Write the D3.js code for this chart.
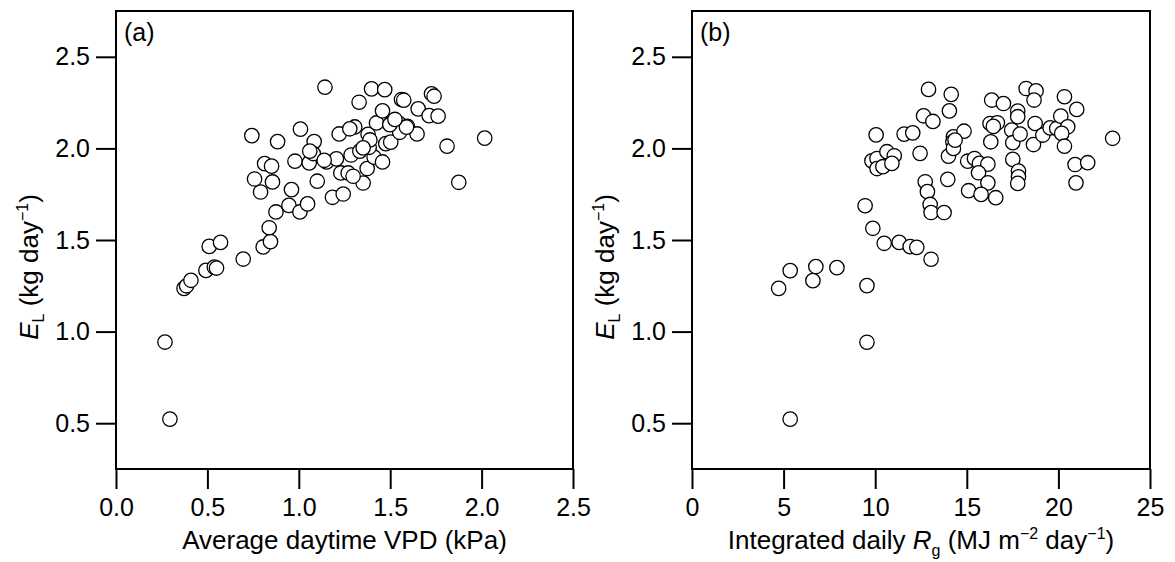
<!DOCTYPE html>
<html>
<head>
<meta charset="utf-8">
<script src="https://cdn.jsdelivr.net/npm/d3@7"></script>
<style>
  html, body { margin: 0; padding: 0; background: #fff; }
  svg { display: block; font-family: Arial, "Liberation Sans", sans-serif; }
</style>
</head>
<body>
<svg id="chart" width="1175" height="562"></svg>
<script>
// panel (a): average daytime VPD (kPa) vs E_L (kg/day)
const vpd = [0.295, 0.268, 0.372, 0.386, 0.410, 0.492, 0.538, 0.550, 0.510, 0.572,
  0.696, 0.805, 0.845, 0.838, 0.875, 0.946, 1.006, 1.048, 0.960, 0.791,
  0.758, 0.856, 0.813, 0.851, 0.743, 0.884, 1.009, 1.084, 0.979, 1.057,
  1.079, 1.101, 1.143, 1.152, 1.206, 1.184, 1.243, 1.230, 1.270, 1.286,
  1.221, 1.306, 1.279, 1.334, 1.352, 1.374, 1.412, 1.458, 1.385, 1.379,
  1.425, 1.458, 1.330, 1.398, 1.470, 1.476, 1.503, 1.507, 1.549, 1.552,
  1.594, 1.562, 1.574, 1.653, 1.647, 1.713, 1.762, 1.726, 1.740, 1.811,
  2.017, 1.875, 1.060, 1.139, 1.389, 1.352, 1.589, 1.297, 1.498, 1.526];
const elA = [0.522, 0.943, 1.236, 1.250, 1.280, 1.334, 1.352, 1.347, 1.465, 1.487,
  1.396, 1.462, 1.491, 1.567, 1.653, 1.689, 1.653, 1.697, 1.775, 1.762,
  1.833, 1.817, 1.917, 1.903, 2.070, 2.037, 2.105, 2.037, 1.930, 1.921,
  1.972, 1.821, 2.334, 1.926, 1.943, 1.733, 1.751, 1.866, 1.866, 1.964,
  2.079, 2.117, 2.107, 1.985, 1.811, 1.890, 1.952, 1.926, 2.006, 2.077,
  2.139, 2.205, 2.252, 2.325, 2.321, 2.026, 2.034, 2.139, 2.136, 2.088,
  2.121, 2.267, 2.263, 2.216, 2.079, 2.179, 2.176, 2.298, 2.285, 2.012,
  2.056, 1.815, 1.985, 1.935, 2.046, 2.003, 2.116, 1.848, 2.130, 2.158];

// panel (b): integrated daily Rg (MJ m-2 day-1) vs E_L (kg/day)
const rg = [5.36, 9.55, 4.73, 5.36, 6.60, 6.76, 7.91, 9.55, 9.45, 9.87,
  10.49, 11.31, 11.91, 12.27, 13.05, 12.73, 12.85, 13.00, 13.05, 13.76,
  13.96, 12.45, 12.91, 14.15, 14.05, 12.64, 13.15, 10.05, 11.58, 12.05,
  9.82, 10.10, 10.64, 11.04, 10.10, 10.42, 10.91, 14.27, 14.24, 14.85,
  14.00, 14.27, 15.05, 15.42, 15.69, 16.15, 15.64, 16.15, 15.10, 15.78,
  16.58, 16.31, 16.27, 16.67, 16.36, 17.00, 17.51, 17.82, 17.82, 17.78,
  17.45, 17.51, 17.91, 17.78, 17.78, 18.24, 18.78, 18.67, 18.73, 18.64,
  19.15, 19.55, 19.91, 20.13, 20.51, 20.18, 20.33, 20.33, 21.00, 20.91,
  21.60, 20.96, 22.96, 14.36, 16.45];
const elB = [0.522, 0.942, 1.236, 1.333, 1.278, 1.355, 1.349, 1.251, 1.687, 1.564,
  1.482, 1.487, 1.464, 1.460, 1.395, 1.818, 1.764, 1.694, 1.650, 1.650,
  1.831, 1.973, 2.322, 2.295, 2.205, 2.178, 2.147, 2.074, 2.078, 2.085,
  1.932, 1.945, 1.982, 1.960, 1.890, 1.900, 1.918, 2.063, 2.036, 2.094,
  1.958, 2.000, 1.930, 1.945, 1.918, 1.914, 1.867, 1.812, 1.769, 1.749,
  1.731, 2.036, 2.136, 2.140, 2.264, 2.245, 1.940, 1.876, 1.845, 1.809,
  2.100, 2.031, 2.078, 2.204, 2.173, 2.327, 2.314, 2.264, 2.136, 2.021,
  2.073, 2.112, 2.109, 2.176, 2.118, 2.082, 2.012, 2.282, 2.213, 1.912,
  1.922, 1.812, 2.055, 2.045, 2.120];

const yTicks = [0.5, 1.0, 1.5, 2.0, 2.5];
const xTicksA = [0.0, 0.5, 1.0, 1.5, 2.0, 2.5];
const xTicksB = [0, 5, 10, 15, 20, 25];

const svg = d3.select("#chart");
const plotTop = 11, plotBottom = 469;
const fs = 25, titleFs = 26, small = 16;

function drawPanel(opt) {
  const x = d3.scaleLinear().domain(opt.xDomain).range([opt.left, opt.right]);
  const y = d3.scaleLinear().domain([0.25, 2.75]).range([plotBottom, plotTop]);
  const g = svg.append("g");

  const yAxis = g.append("g")
    .attr("transform", `translate(${opt.left},0)`)
    .call(d3.axisLeft(y).tickValues(yTicks).tickFormat(d3.format(".1f")).tickSize(20).tickPadding(6));
  const xAxis = g.append("g")
    .attr("transform", `translate(0,${plotBottom})`)
    .call(d3.axisBottom(x).tickValues(opt.xTicks).tickFormat(opt.fmt).tickSize(20).tickPadding(9));
  [yAxis, xAxis].forEach(a => {
    a.select(".domain").remove();
    a.selectAll(".tick line").attr("stroke", "#000").attr("stroke-width", 2);
    a.selectAll(".tick text").attr("font-size", fs).attr("fill", "#000")
      .style("font-family", "Arial, 'Liberation Sans', sans-serif");
  });

  g.append("rect")
    .attr("x", opt.left).attr("y", plotTop)
    .attr("width", opt.right - opt.left).attr("height", plotBottom - plotTop)
    .attr("fill", "none").attr("stroke", "#000").attr("stroke-width", 2);

  g.selectAll("circle.pt")
    .data(opt.xs.map((v, i) => [v, opt.ys[i]]))
    .join("circle")
    .attr("class", "pt")
    .attr("cx", d => x(d[0]))
    .attr("cy", d => y(d[1]))
    .attr("r", 7.2)
    .attr("fill", "#fff")
    .attr("stroke", "#000")
    .attr("stroke-width", 1.3);

  g.append("text")
    .attr("x", opt.left + 8).attr("y", plotTop + 30)
    .attr("font-size", 25)
    .text(opt.tag);

  // y title: E_L (kg day^-1)
  const yt = g.append("text")
    .attr("transform", `translate(${opt.left - 78},${(plotTop + plotBottom) / 2 + 27}) rotate(-90)`)
    .attr("text-anchor", "middle")
    .attr("font-size", titleFs);
  yt.append("tspan").attr("font-style", "italic").text("E");
  yt.append("tspan").attr("font-size", small).attr("dy", 6).text("L");
  yt.append("tspan").attr("dy", -6).text(" (kg day");
  yt.append("tspan").attr("font-size", small).attr("dy", -10).text("\u22121");
  yt.append("tspan").attr("dy", 10).text(")");

  const xt = g.append("text")
    .attr("x", (opt.left + opt.right) / 2).attr("y", 549)
    .attr("text-anchor", "middle")
    .attr("font-size", titleFs);
  opt.xTitle(xt);
}

drawPanel({
  left: 116, right: 573, xDomain: [0, 2.5], xTicks: xTicksA, fmt: d3.format(".1f"),
  xs: vpd, ys: elA, tag: "(a)",
  xTitle: t => t.text("Average daytime VPD (kPa)")
});

drawPanel({
  left: 692, right: 1150, xDomain: [0, 25], xTicks: xTicksB, fmt: d3.format("d"),
  xs: rg, ys: elB, tag: "(b)",
  xTitle: t => {
    t.append("tspan").text("Integrated daily ");
    t.append("tspan").attr("font-style", "italic").text("R");
    t.append("tspan").attr("font-size", small).attr("dy", 7).text("g");
    t.append("tspan").attr("dy", -7).text(" (MJ m");
    t.append("tspan").attr("font-size", small).attr("dy", -10).text("\u22122");
    t.append("tspan").attr("dy", 10).text(" day");
    t.append("tspan").attr("font-size", small).attr("dy", -10).text("\u22121");
    t.append("tspan").attr("dy", 10).text(")");
  }
});
</script>
</body>
</html>
